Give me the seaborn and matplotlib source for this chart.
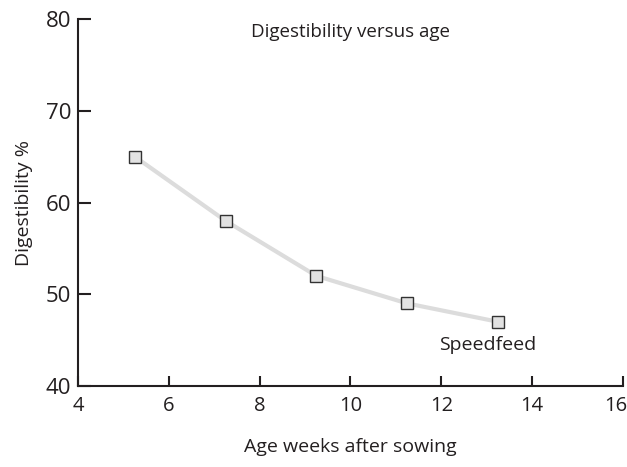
import matplotlib
matplotlib.use('Agg')
import pandas as pd
import seaborn as sns
from matplotlib import pyplot as plt

# Values
age_weeks = [5.25, 7.25, 9.25, 11.25, 13.25]
digestibility = [65, 58, 52, 49, 47]
x_ticks = [4, 6, 8, 10, 12, 14, 16]
y_ticks = [40, 50, 60, 70, 80]

df = pd.DataFrame({'Age': age_weeks, 'Digestibility': digestibility})

sns.set_style('ticks')
plt.rcParams['font.family'] = ['Open Sans', 'DejaVu Sans']

ink = '#231f20'

fig = plt.figure(figsize=(6.27, 4.67), dpi=100)
ax = fig.add_axes([0.1244, 0.1734, 0.8692, 0.7859])

sns.lineplot(data=df, x='Age', y='Digestibility', ax=ax, color='#dcdcdc',
             linewidth=3, marker='s', markersize=9, markerfacecolor='#e2e2e2',
             markeredgecolor='#333333', markeredgewidth=1)

ax.set_xlim(4, 16)
ax.set_ylim(40, 80)
# last x label is drawn separately so it stays inside the canvas
ax.set_xticks(x_ticks, [str(t) for t in x_ticks[:-1]] + [''])
ax.set_yticks(y_ticks)

sns.despine(ax=ax)
for side in ['left', 'bottom']:
    ax.spines[side].set_color(ink)
    ax.spines[side].set_linewidth(1.5)

ax.tick_params(axis='y', direction='in', length=9, width=1.5, color=ink,
               labelsize=16, labelcolor=ink, pad=5)
ax.tick_params(axis='x', direction='in', length=7, width=1.5, color=ink,
               labelsize=14.5, labelcolor=ink, pad=7)

ax.annotate(str(x_ticks[-1]), xy=(x_ticks[-1], 0), xycoords=('data', 'axes fraction'),
            xytext=(-5, -7), textcoords='offset points', ha='center', va='top',
            fontsize=14.5, color=ink)

ax.set_xlabel('Age weeks after sowing', fontsize=14, color=ink, labelpad=16)
ax.set_ylabel('Digestibility %', fontsize=14, color=ink, labelpad=9)

ax.text(10.0, 78.6, 'Digestibility versus age', ha='center', va='center',
        fontsize=13.5, color=ink)
ax.text(11.95, 44.5, 'Speedfeed', ha='left', va='center', fontsize=14, color=ink)

plt.savefig('out.png', dpi=100)
plt.close()
